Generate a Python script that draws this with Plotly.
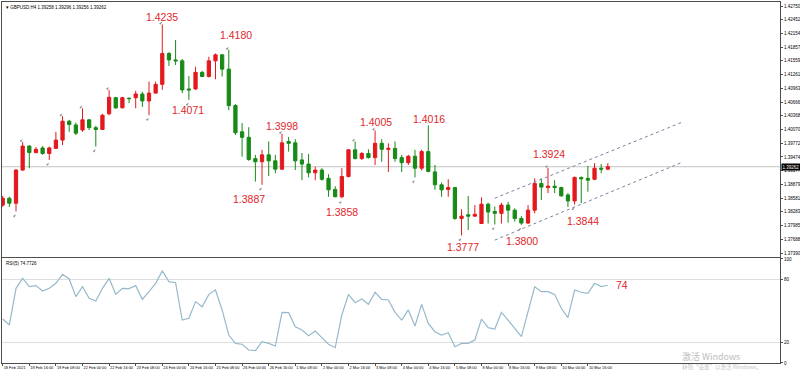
import plotly.graph_objects as go

# ---------------- data ----------------
bars = list(range(92))  # H4 bars from 18 Feb 2021 00:00
opens = [1.3843, 1.3858, 1.3847, 1.3919, 1.3971, 1.3957, 1.3967, 1.3955, 1.3966, 1.3984,
         1.4025, 1.4017, 1.4006, 1.4028, 1.4011, 1.4007, 1.4041, 1.4076, 1.4054, 1.4075,
         1.4076, 1.4084, 1.4069, 1.4086, 1.4105, 1.4172, 1.4158, 1.4156, 1.4095, 1.4095,
         1.4131, 1.4122, 1.4156, 1.4169, 1.4138, 1.4059, 1.4002, 1.3990, 1.3944, 1.3937,
         1.3952, 1.3939, 1.3921, 1.3981, 1.3978, 1.3941, 1.3932, 1.3913, 1.3919, 1.3901,
         1.3877, 1.3861, 1.3905, 1.3963, 1.3944, 1.3955, 1.3946, 1.3977, 1.3964, 1.3966,
         1.3946, 1.3935, 1.3949, 1.3923, 1.3959, 1.3915, 1.3887, 1.3877, 1.3881, 1.3814,
         1.3822, 1.3819, 1.3803, 1.3845, 1.3829, 1.3825, 1.3843, 1.3832, 1.3814, 1.3804,
         1.3832, 1.3890, 1.3881, 1.3884, 1.3881, 1.3865, 1.3852, 1.3903, 1.3901, 1.3899,
         1.3923, 1.3921]
highs = [1.3863, 1.3861, 1.3921, 1.3980, 1.3973, 1.3969, 1.3971, 1.3970, 1.4002, 1.4036,
         1.4028, 1.4022, 1.4053, 1.4030, 1.4015, 1.4041, 1.4093, 1.4078, 1.4078, 1.4076,
         1.4091, 1.4089, 1.4111, 1.4111, 1.4235, 1.4175, 1.4201, 1.4160, 1.4123, 1.4143,
         1.4134, 1.4165, 1.4172, 1.4171, 1.4180, 1.4062, 1.4021, 1.4012, 1.3952, 1.3963,
         1.3981, 1.3952, 1.3998, 1.3991, 1.3986, 1.3956, 1.3954, 1.3926, 1.3923, 1.3910,
         1.3884, 1.3923, 1.3964, 1.3981, 1.3958, 1.3964, 1.4005, 1.3986, 1.3977, 1.3981,
         1.3952, 1.3952, 1.3963, 1.3963, 1.4016, 1.3930, 1.3892, 1.3899, 1.3882, 1.3834,
         1.3863, 1.3843, 1.3860, 1.3848, 1.3840, 1.3848, 1.3850, 1.3836, 1.3819, 1.3843,
         1.3901, 1.3901, 1.3924, 1.3897, 1.3883, 1.3869, 1.3905, 1.3905, 1.3928, 1.3934,
         1.3932, 1.3934]
lows = [1.3839, 1.3839, 1.3829, 1.3917, 1.3923, 1.3955, 1.3952, 1.3941, 1.3965, 1.3973,
        1.4002, 1.3995, 1.4002, 1.4006, 1.3970, 1.4006, 1.4038, 1.4052, 1.4053, 1.4064,
        1.4053, 1.4056, 1.4038, 1.4085, 1.4093, 1.4145, 1.4147, 1.4086, 1.4071, 1.4093,
        1.4121, 1.4120, 1.4116, 1.4122, 1.4049, 1.3995, 1.3948, 1.3939, 1.3894, 1.3887,
        1.3906, 1.3912, 1.3919, 1.3959, 1.3919, 1.3897, 1.3903, 1.3897, 1.3896, 1.3861,
        1.3860, 1.3858, 1.3903, 1.3942, 1.3941, 1.3944, 1.3930, 1.3937, 1.3915, 1.3937,
        1.3915, 1.3930, 1.3903, 1.3918, 1.3914, 1.3876, 1.3861, 1.3861, 1.3811, 1.3777,
        1.3789, 1.3818, 1.3802, 1.3803, 1.3801, 1.3803, 1.3805, 1.3807, 1.3800, 1.3802,
        1.3825, 1.3854, 1.3869, 1.3869, 1.3861, 1.3839, 1.3844, 1.3847, 1.3872, 1.3897,
        1.3912, 1.3919]
closes = [1.3858, 1.3847, 1.3919, 1.3971, 1.3957, 1.3964, 1.3955, 1.3967, 1.3984, 1.4025,
          1.4018, 1.3999, 1.4028, 1.4011, 1.4007, 1.4038, 1.4077, 1.4054, 1.4076, 1.4074,
          1.4084, 1.4069, 1.4086, 1.4105, 1.4172, 1.4158, 1.4156, 1.4093, 1.4093, 1.4131,
          1.4122, 1.4156, 1.4169, 1.4138, 1.4059, 1.4000, 1.3990, 1.3942, 1.3937, 1.3952,
          1.3939, 1.3921, 1.3978, 1.3977, 1.3939, 1.3932, 1.3913, 1.3919, 1.3899, 1.3876,
          1.3861, 1.3905, 1.3963, 1.3944, 1.3955, 1.3946, 1.3977, 1.3964, 1.3966, 1.3944,
          1.3935, 1.3949, 1.3923, 1.3959, 1.3916, 1.3887, 1.3876, 1.3881, 1.3814, 1.3819,
          1.3819, 1.3823, 1.3845, 1.3828, 1.3825, 1.3843, 1.3832, 1.3814, 1.3804, 1.3832,
          1.3890, 1.3882, 1.3884, 1.3881, 1.3863, 1.3852, 1.3903, 1.3900, 1.3897, 1.3923,
          1.3921, 1.39262]
rsi = [42.3, 36.5, 71.8, 81.4, 73.4, 74.4, 69.2, 71.8, 76.6, 85.3,
       80.8, 63.8, 73.4, 62.2, 59.6, 71.8, 81.4, 66.0, 71.8, 71.5,
       74.4, 61.2, 68.6, 76.6, 88.5, 78.2, 77.2, 41.3, 43.0, 59.0,
       54.1, 66.0, 70.2, 51.0, 26.9, 18.9, 18.0, 12.5, 11.9, 20.5,
       18.9, 16.3, 48.7, 48.4, 34.9, 31.7, 26.3, 30.8, 24.4, 18.0,
       14.7, 46.2, 66.0, 58.0, 61.5, 56.4, 68.0, 61.2, 60.6, 48.7,
       41.3, 51.0, 35.6, 56.4, 38.1, 30.1, 26.9, 29.2, 15.7, 18.9,
       18.9, 22.1, 42.3, 34.0, 32.7, 48.7, 41.3, 32.7, 25.3, 49.3,
       73.4, 68.6, 68.6, 66.0, 52.6, 43.6, 70.2, 68.0, 67.0, 76.6,
       73.4, 74.77]

time_tick_bars = [0, 4, 8, 12, 16, 20, 24, 28, 32, 36, 40, 44, 48, 52, 56, 60, 64, 68, 72, 76, 80, 84, 88]
time_tick_text = ["18 Feb 2021", "18 Feb 16:00", "19 Feb 08:00", "22 Feb 00:00", "22 Feb 16:00",
                  "23 Feb 08:00", "24 Feb 00:00", "24 Feb 16:00", "25 Feb 08:00", "26 Feb 00:00",
                  "26 Feb 16:00", "1 Mar 08:00", "2 Mar 00:00", "2 Mar 16:00", "3 Mar 08:00",
                  "4 Mar 00:00", "4 Mar 16:00", "5 Mar 08:00", "8 Mar 00:00", "8 Mar 16:00",
                  "9 Mar 08:00", "10 Mar 00:00", "10 Mar 16:00"]
price_ticks = [1.42750, 1.42452, 1.42154, 1.41857, 1.41559, 1.41261, 1.40963, 1.40666,
               1.40368, 1.40070, 1.39772, 1.39474, 1.39177, 1.38879, 1.38581, 1.38283,
               1.37985, 1.37688, 1.37390]
rsi_ticks = [0, 20, 80, 100]
last_price = 1.39262
header_text = "GBPUSD,H4 1.39258 1.39296 1.39256 1.39262"
rsi_caption = "RSI(5) 74.7726"

channel_x = [74.0, 102.2]
channel_upper = [1.3858, 1.4023]
channel_lower = [1.3767, 1.3936]

label_bars = [24, 28, 34, 42, 39, 51, 56, 64, 69, 78, 82, 86]
label_sides = ["high", "low", "high", "high", "low", "low", "high", "high", "low", "low", "high", "low"]
up_fractal_bars = [3, 9, 12, 16, 24, 34, 42, 53, 56, 82]
down_fractal_bars = [2, 7, 14, 22, 28, 39, 51, 62, 69, 74, 78, 86]

# ---------------- style ----------------
RED = "#e3191d"
GREEN = "#178a17"
LABEL_RED = "#e0262b"
FRAME = "#4d4d4d"
FONT = "Liberation Sans"
FRACTAL_GAP = 0.0006
label_shifts = [(0, 7), (-1, -10), (7, 15), (0, 7.5), (-13, -14), (0.5, -14),
                (1, 8), (0.5, 6.5), (1, -12), (1, -16.5), (1, 14), (8, -16.5)]

fig = go.Figure()
fig.add_trace(go.Candlestick(
    x=bars, open=opens, high=highs, low=lows, close=closes,
    increasing=dict(line=dict(color=RED, width=1), fillcolor=RED),
    decreasing=dict(line=dict(color=GREEN, width=1), fillcolor=GREEN),
    whiskerwidth=0, xaxis="x", yaxis="y", showlegend=False, hoverinfo="skip"))

fractal_marker = dict(symbol="arrow", angle=45, size=3.5, color="#8f8f8f")
fig.add_trace(go.Scatter(
    x=up_fractal_bars, y=[highs[b] + FRACTAL_GAP for b in up_fractal_bars], mode="markers",
    marker=fractal_marker, xaxis="x", yaxis="y", showlegend=False, hoverinfo="skip"))
fig.add_trace(go.Scatter(
    x=down_fractal_bars, y=[lows[b] - FRACTAL_GAP for b in down_fractal_bars], mode="markers",
    marker=fractal_marker, xaxis="x", yaxis="y", showlegend=False, hoverinfo="skip"))

for ys in (channel_upper, channel_lower):
    fig.add_trace(go.Scatter(x=channel_x, y=ys, mode="lines",
                             line=dict(color="#7c7fa0", width=1, dash="dot"),
                             xaxis="x", yaxis="y", showlegend=False, hoverinfo="skip"))

fig.add_trace(go.Scatter(x=bars, y=rsi, mode="lines", line=dict(color="#96b9cc", width=1.2),
                         xaxis="x2", yaxis="y2", showlegend=False, hoverinfo="skip"))

x_range = [-0.105, 116.89]
axis_common = dict(showline=True, linecolor=FRAME, linewidth=1, mirror=True, zeroline=False,
                   automargin=False)

annotations = []
for b, side, (dx, dy) in zip(label_bars, label_sides, label_shifts):
    val = highs[b] if side == "high" else lows[b]
    annotations.append(dict(x=b, y=val, xref="x", yref="y", text=f"{val:.4f}", showarrow=False,
                            xanchor="center", yanchor="middle", xshift=dx, yshift=dy,
                            font=dict(family=FONT, size=10.5, color=LABEL_RED)))
annotations.append(dict(x=bars[-1], y=rsi[-1], xref="x2", yref="y2", text=f"{int(rsi[-1])}",
                        showarrow=False, xanchor="center", yanchor="middle", xshift=14, yshift=0,
                        font=dict(family=FONT, size=10.5, color=LABEL_RED)))
annotations.append(dict(x=1, y=last_price, xref="paper", yref="y", text=f"{last_price:.5f}",
                        showarrow=False, xanchor="left", yanchor="middle", xshift=1,
                        bgcolor="#000000", borderpad=0.5,
                        font=dict(family=FONT, size=4.5, color="#ffffff")))
annotations.append(dict(x=0, y=1, xref="paper", yref="paper", text="▾ " + header_text,
                        showarrow=False, xanchor="left", yanchor="top", xshift=2, yshift=-1,
                        font=dict(family=FONT, size=4.5, color="#000000")))
annotations.append(dict(x=0, y=1, xref="x2 domain", yref="y2 domain", text=rsi_caption,
                        showarrow=False, xanchor="left", yanchor="top", xshift=2, yshift=-1,
                        font=dict(family=FONT, size=4.5, color="#000000")))
annotations.append(dict(x=0.8715, y=0.019, xref="paper", yref="paper", text="激活 Windows",
                        showarrow=False, xanchor="left", yanchor="middle",
                        font=dict(family="Noto Sans CJK SC", size=9, color="#bdbdbd")))
annotations.append(dict(x=0.8715, y=-0.011, xref="paper", yref="paper", text="转到“设置”以激活 Windows。",
                        showarrow=False, xanchor="left", yanchor="middle",
                        font=dict(family="Noto Sans CJK SC", size=5.5, color="#c4c4c4")))

fig.update_layout(
    width=800, height=375,
    margin=dict(l=2, r=20, t=2, b=12),
    plot_bgcolor="white", paper_bgcolor="white",
    font=dict(family=FONT, color="#000000"),
    xaxis=dict(domain=[0, 1], anchor="y", range=x_range, showticklabels=False, showgrid=False,
               rangeslider=dict(visible=False), ticks="", **axis_common),
    xaxis2=dict(domain=[0, 1], anchor="y2", range=x_range, matches="x", showgrid=False,
                tickmode="array", tickvals=time_tick_bars, ticktext=time_tick_text, tickangle=0,
                ticklabelposition="outside right", ticks="outside", ticklen=2, tickcolor=FRAME,
                tickfont=dict(size=3.9, family=FONT, color="#000000"), **axis_common),
    yaxis=dict(domain=[0.2936, 1], anchor="x", range=[1.37303, 1.42837], side="right",
               tickmode="array", tickvals=price_ticks, ticktext=[f"{v:.5f}" for v in price_ticks],
               ticks="outside", ticklen=2, tickcolor=FRAME, showgrid=False,
               tickfont=dict(size=4.5, family=FONT, color="#000000"), **axis_common),
    yaxis2=dict(domain=[0, 0.2909], anchor="x2", range=[0, 100.96], side="right",
                tickmode="array", tickvals=rsi_ticks, ticktext=[str(v) for v in rsi_ticks],
                ticks="outside", ticklen=2, tickcolor=FRAME, showgrid=True, gridcolor="#dedede",
                gridwidth=1, tickfont=dict(size=4.5, family=FONT, color="#000000"), **axis_common),
    shapes=[dict(type="line", xref="x domain", yref="y", x0=0, x1=1, y0=last_price, y1=last_price,
                 line=dict(color="#c3c3c3", width=1), layer="below")],
    annotations=annotations,
)

fig.write_html("out.html")
